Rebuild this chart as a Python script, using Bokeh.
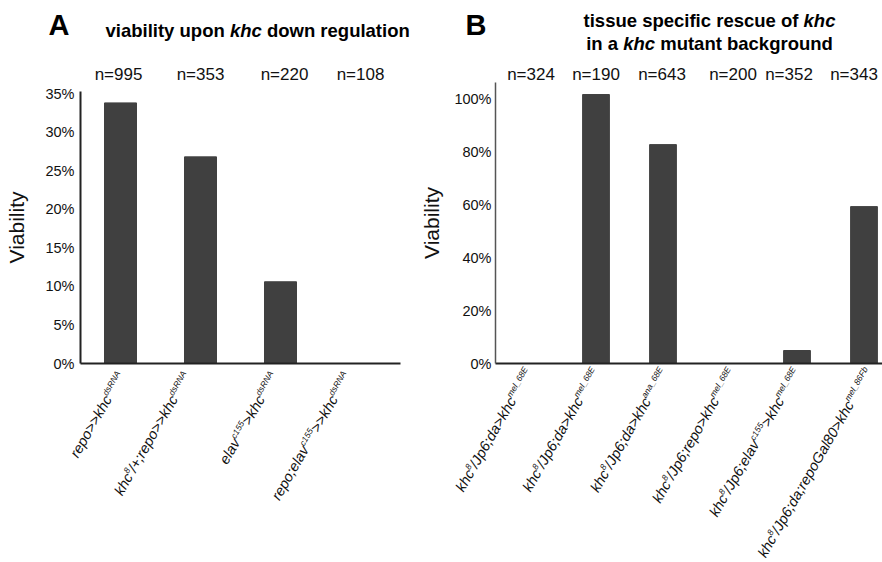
import math
from bokeh.plotting import figure
from bokeh.models import (ColumnDataSource, LabelSet, Label, Range1d,
                          FixedTicker, PrintfTickFormatter)
from bokeh.core.properties import value
from bokeh.layouts import row
from bokeh.embed import file_html
from bokeh.resources import INLINE

# ---------------- data ----------------
a_categories = ["repo>>khc dsRNA", "khc8/+;repo>>khc dsRNA",
                "elav c155>khc dsRNA", "repo;elav c155>>khc dsRNA"]
a_viability = [33.8, 26.8, 10.6, 0.0]
a_n = [995, 353, 220, 108]
a_ticks = [0, 5, 10, 15, 20, 25, 30, 35]
# tick label pieces: (text, is_superscript)
a_label_parts = [
    [("repo>>khc", 0), ("dsRNA", 1)],
    [("khc", 0), ("8", 1), ("/+;repo>>khc", 0), ("dsRNA", 1)],
    [("elav", 0), ("c155", 1), (">khc", 0), ("dsRNA", 1)],
    [("repo;elav", 0), ("c155", 1), (">>khc", 0), ("dsRNA", 1)],
]

b_categories = ["khc8/Jp6;da>khc mel_68E", "khc8/Jp6;da>khc mel_68E",
                "khc8/Jp6;da>khc ana_68E", "khc8/Jp6;repo>khc mel_68E",
                "khc8/Jp6;elav c155>khc mel_68E",
                "khc8/Jp6;da;repoGal80>khc mel_86Fb"]
b_viability = [0.0, 101.5, 82.6, 0.0, 4.9, 59.2]
b_n = [324, 190, 643, 200, 352, 343]
b_ticks = [0, 20, 40, 60, 80, 100]
b_label_parts = [
    [("khc", 0), ("8", 1), ("/Jp6;da>khc", 0), ("mel_68E", 1)],
    [("khc", 0), ("8", 1), ("/Jp6;da>khc", 0), ("mel_68E", 1)],
    [("khc", 0), ("8", 1), ("/Jp6;da>khc", 0), ("ana_68E", 1)],
    [("khc", 0), ("8", 1), ("/Jp6;repo>khc", 0), ("mel_68E", 1)],
    [("khc", 0), ("8", 1), ("/Jp6;elav", 0), ("c155", 1), (">khc", 0), ("mel_68E", 1)],
    [("khc", 0), ("8", 1), ("/Jp6;da;repoGal80>khc", 0), ("mel_86Fb", 1)],
]

# ---------------- style / layout ----------------
FONT = "Liberation Sans"
BAR_COLOR = "#404040"
TEXT_COLOR = "#111111"
MAIN_FS = 14.5
SUP_FS = 8.5
RAISE = 4.0
ANGLE = math.pi / 3
TITLE_FS = 18.5
FIG_H = 560
PAGE_M = 0
ZERO_Y = 363          # page y of the 0 baseline
A_N_SHIFT = [-2, 0, 4, 0]          # small horizontal nudges of the n= texts
B_N_SHIFT = [2, 0, -1, 3, -8, -10]
A_LABEL_SHIFT = [1, -13, -6, -13]  # nudges of the slanted category texts
B_LABEL_SHIFT = [0, 0, 1, 2, 0, 5]

# Helvetica / Arial advance widths (per 1000 em)
W = {' ': 278, '%': 889, '+': 584, ';': 278, '/': 278, '>': 584,
     '_': 556, '=': 584, 'A': 667, 'B': 667, 'E': 667, 'F': 611, 'G': 778,
     'J': 500, 'N': 722, 'R': 722, 'a': 556, 'b': 556, 'c': 500, 'd': 556,
     'e': 556, 'f': 278, 'g': 556, 'h': 556, 'i': 222, 'k': 500, 'l': 222,
     'm': 833, 'n': 556, 'o': 556, 'p': 556, 'r': 333, 's': 500, 't': 278,
     'u': 556, 'v': 500, 'w': 722, 'y': 500}
WB = {' ': 278, 'a': 556, 'b': 611, 'c': 556, 'd': 611, 'e': 556, 'f': 333,
      'g': 611, 'h': 611, 'i': 278, 'k': 556, 'l': 278, 'm': 889, 'n': 611,
      'o': 611, 'p': 611, 'r': 389, 's': 556, 't': 333, 'u': 611, 'v': 556,
      'w': 778, 'y': 556}


def tw(s, size, table=W):
    return sum(table.get(ch, 556) for ch in s) * size / 1000.0


def tick_label_sets(parts_list, shifts, base_dy):
    main = dict(x=[], y=[], text=[], xo=[], yo=[])
    sup = dict(x=[], y=[], text=[], xo=[], yo=[])
    c, s = math.cos(ANGLE), math.sin(ANGLE)
    for i, parts in enumerate(parts_list):
        w = 0.0
        for text, is_sup in reversed(parts):
            fs = SUP_FS if is_sup else MAIN_FS
            ox = shifts[i] - w * c
            oy = base_dy - w * s
            if is_sup:
                ox += -s * RAISE
                oy += c * RAISE
            tgt = sup if is_sup else main
            tgt["x"].append(i)
            tgt["y"].append(0)
            tgt["text"].append(text)
            tgt["xo"].append(ox)
            tgt["yo"].append(oy)
            w += tw(text, fs)
    common = dict(x="x", y="y", text="text", x_offset="xo", y_offset="yo",
                  angle=ANGLE, text_align="right", text_baseline="middle",
                  text_font=value(FONT), text_font_style="italic",
                  text_color=TEXT_COLOR)
    return [LabelSet(source=ColumnDataSource(main), text_font_size=f"{MAIN_FS}px", **common),
            LabelSet(source=ColumnDataSource(sup), text_font_size=f"{SUP_FS}px", **common)]


class Panel:
    """A figure whose frame fills the whole canvas; axes are pinned inside."""

    def __init__(self, page_left, width, axis_x, px_per_cat, px_per_unit,
                 y_top, ticks, values, ns, n_shift, parts, label_shift,
                 label_dy, label_standoff, axis_standoff, y_line_color,
                 y_line_width, x_axis_end=None):
        self.left = page_left
        self.width = width
        x0 = -0.5 - (axis_x - page_left) / px_per_cat
        x1 = x0 + width / px_per_cat
        y0 = -(PAGE_M + FIG_H - ZERO_Y) / px_per_unit
        y1 = (ZERO_Y - PAGE_M) / px_per_unit
        p = figure(width=width, height=FIG_H, x_range=Range1d(x0, x1),
                   y_range=Range1d(y0, y1), output_backend="svg",
                   toolbar_location=None, min_border_left=0,
                   min_border_right=0, min_border_top=0, min_border_bottom=0)
        self.p = p
        p.outline_line_color = None
        p.grid.visible = False

        xs = list(range(len(values)))
        p.vbar(x=xs, top=values, width=0.4, fill_color=BAR_COLOR,
               line_color=BAR_COLOR)

        xa = p.xaxis[0]
        xa.fixed_location = 0
        xa.bounds = (-0.5, x_axis_end if x_axis_end is not None else len(values) - 0.5)
        xa.ticker = FixedTicker(ticks=[])
        xa.axis_line_color = "#222222"
        xa.axis_line_width = 2
        xa.major_tick_line_color = None
        xa.minor_tick_line_color = None

        ya = p.yaxis[0]
        ya.fixed_location = -0.5
        ya.bounds = (0, y_top)
        ya.ticker = FixedTicker(ticks=ticks)
        ya.formatter = PrintfTickFormatter(format="%d%%")
        ya.axis_line_color = y_line_color
        ya.axis_line_width = y_line_width
        ya.major_tick_line_color = None
        ya.minor_tick_line_color = None
        ya.major_tick_out = 0
        ya.major_tick_in = 0
        ya.major_label_standoff = label_standoff
        ya.major_label_text_font = FONT
        ya.major_label_text_font_size = "14.5px"
        ya.major_label_text_color = TEXT_COLOR
        ya.axis_label = "Viability"
        ya.axis_label_text_font = FONT
        ya.axis_label_text_font_size = "21px"
        ya.axis_label_text_font_style = "normal"
        ya.axis_label_text_color = TEXT_COLOR
        ya.axis_label_standoff = axis_standoff

        # n = ... counts above the bars
        nsrc = ColumnDataSource(dict(x=xs, y=[self.sy(74)] * len(xs),
                                     xo=n_shift,
                                     text=[f"n={v}" for v in ns]))
        p.add_layout(LabelSet(source=nsrc, x="x", y="y", text="text",
                              x_offset="xo", y_units="screen",
                              text_align="center", text_baseline="middle",
                              text_font=value(FONT), text_font_size="17px",
                              text_color=TEXT_COLOR))
        for ls in tick_label_sets(parts, label_shift, label_dy):
            p.add_layout(ls)

    def sx(self, page_x):
        return page_x - self.left

    def sy(self, page_y):
        return PAGE_M + FIG_H - page_y

    def label(self, page_x, page_y, text, size, style, align="left"):
        self.p.add_layout(Label(x=self.sx(page_x), y=self.sy(page_y),
                                x_units="screen", y_units="screen", text=text,
                                text_font=FONT, text_font_size=f"{size}px",
                                text_font_style=style, text_align=align,
                                text_baseline="middle", text_color="#000000"))

    def rich_line(self, pieces, page_x, page_y, center=False):
        total = sum(tw(t, TITLE_FS, WB) for t, _ in pieces)
        x = page_x - total / 2 if center else page_x
        for t, ital in pieces:
            lead = len(t) - len(t.lstrip(" "))
            self.label(x + tw(" " * lead, TITLE_FS, WB), page_y, t.strip(" "),
                       TITLE_FS, "bold italic" if ital else "bold")
            x += tw(t, TITLE_FS, WB)


# ---------------- panel A ----------------
A = Panel(page_left=0, width=420, axis_x=80, px_per_cat=80, px_per_unit=7.71,
          y_top=35.3, ticks=a_ticks, values=a_viability, ns=a_n,
          n_shift=A_N_SHIFT, parts=a_label_parts, label_shift=A_LABEL_SHIFT,
          label_dy=-10, label_standoff=6, axis_standoff=14,
          y_line_color="#222222", y_line_width=2)
A.rich_line([("viability upon ", 0), ("khc", 1), (" down regulation", 0)], 105, 30)
A.label(48, 24, "A", 29, "bold")

# ---------------- panel B ----------------
B = Panel(page_left=420, width=462, axis_x=495, px_per_cat=67, px_per_unit=2.65,
          y_top=106, ticks=b_ticks, values=b_viability, ns=b_n,
          n_shift=B_N_SHIFT, parts=b_label_parts, label_shift=B_LABEL_SHIFT,
          label_dy=-6, label_standoff=4, axis_standoff=8,
          y_line_color="#555555", y_line_width=1.5, x_axis_end=6)
B.rich_line([("tissue specific rescue of ", 0), ("khc", 1)], 709, 20, center=True)
B.rich_line([("in a ", 0), ("khc", 1), (" mutant background", 0)], 709, 43, center=True)
B.label(465, 24, "B", 29, "bold")

layout = row(A.p, B.p)
open("out.html", "w").write(file_html(layout, INLINE))
